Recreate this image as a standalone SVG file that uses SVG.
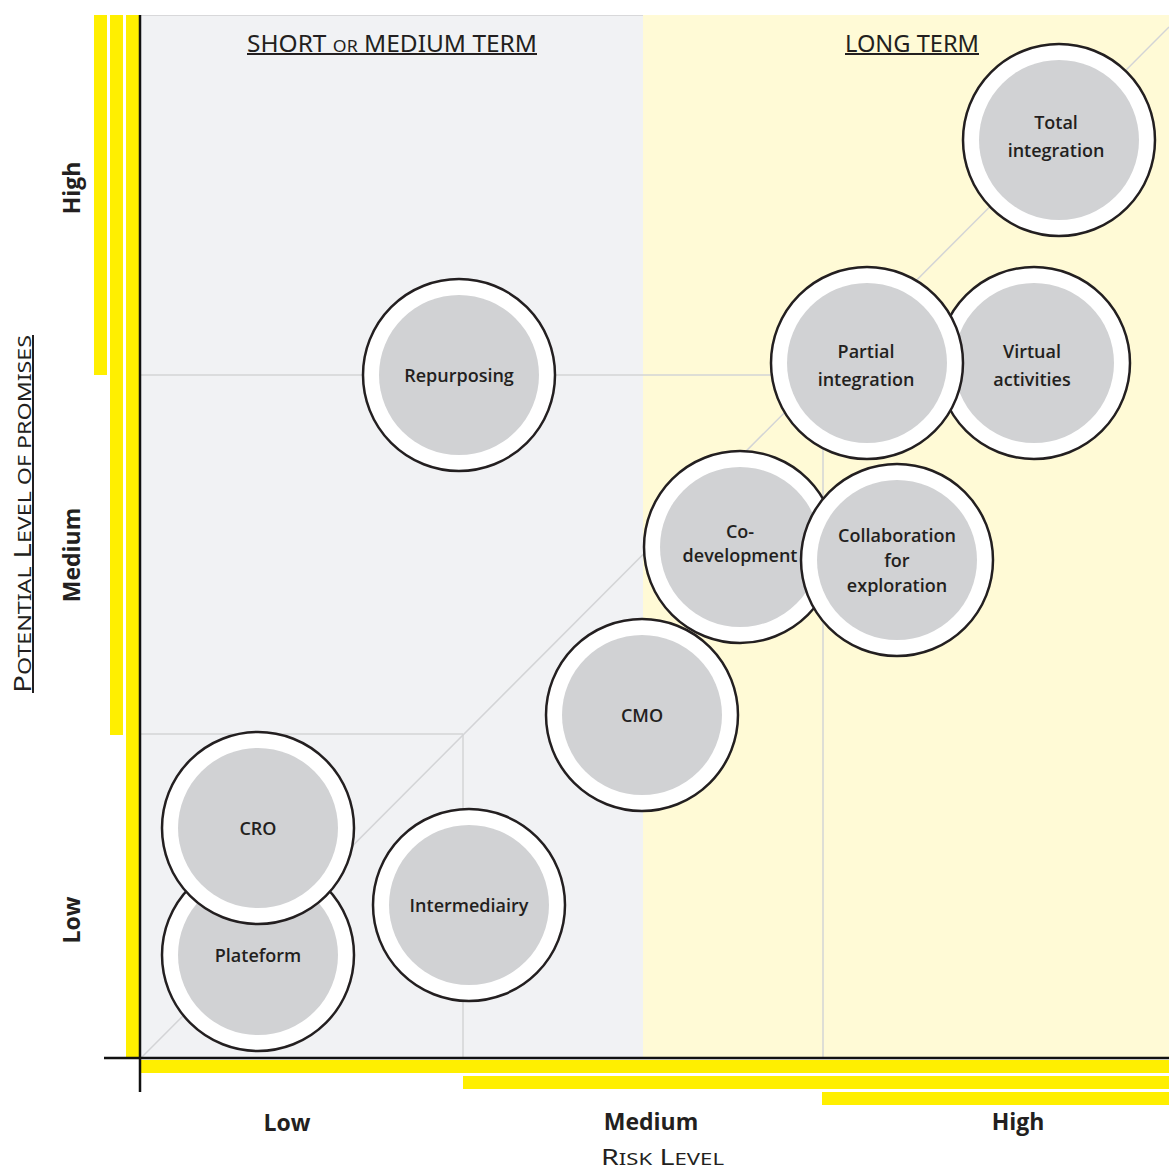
<svg xmlns="http://www.w3.org/2000/svg" width="1169" height="1171" viewBox="0 0 1169 1171">
<style>
.bg{stroke:none}
.grid{stroke:#d3d4d6;stroke-width:1.5;fill:none}
.bar{fill:#ffef00}
.axis{stroke:#111;stroke-width:2.5}
.outer{fill:#fff;stroke:#231f20;stroke-width:2.5}
.inner{fill:#d1d2d4}
.lbl{font-family:"Open Sans","Noto Sans",sans-serif;font-weight:600;font-size:18px;fill:#231f20;text-anchor:middle}
.tick{font-family:"Open Sans","Noto Sans",sans-serif;font-weight:700;font-size:23px;fill:#231f20;text-anchor:middle}
.title{font-family:"Noto Sans","Open Sans",sans-serif;font-weight:400;fill:#231f20}
.ul{stroke:#231f20;stroke-width:2}
</style>
<rect x="0" y="0" width="1169" height="1171" fill="#fff"/>
<g id="background">
<rect class="bg" x="141" y="15" width="502" height="1043" fill="#f1f2f4"/>
<rect class="bg" x="643" y="15" width="526" height="1043" fill="#fffad6"/>
<line x1="141" y1="15.5" x2="643" y2="15.5" stroke="#d8d8da" stroke-width="1"/>
</g>
<g id="connectors">
<line class="grid" x1="141" y1="375" x2="823" y2="375"/>
<line class="grid" x1="141" y1="734" x2="463" y2="734"/>
<line class="grid" x1="463" y1="734" x2="463" y2="1058"/>
<line class="grid" x1="823" y1="375" x2="823" y2="1058"/>
<line class="grid" x1="141" y1="1058" x2="1169" y2="27"/>
</g>
<g id="bars">
<rect class="bar" x="94" y="15" width="13" height="360"/>
<rect class="bar" x="110" y="15" width="13" height="720"/>
<rect class="bar" x="126" y="15" width="13" height="1043"/>
<rect class="bar" x="141" y="1060" width="1028" height="13"/>
<rect class="bar" x="463" y="1076" width="706" height="13"/>
<rect class="bar" x="822" y="1092" width="347" height="13"/>
</g>
<g id="axes">
<line class="axis" x1="140" y1="15" x2="140" y2="1092"/>
<line class="axis" x1="104" y1="1058" x2="1169" y2="1058"/>
</g>
<g id="node-plateform"><circle class="outer" cx="258" cy="955" r="96"/><circle class="inner" cx="258" cy="955" r="80"/><text class="lbl" x="258" y="962">Plateform</text></g>
<g id="node-cro"><circle class="outer" cx="258" cy="828" r="96"/><circle class="inner" cx="258" cy="828" r="80"/><text class="lbl" x="258" y="835">CRO</text></g>
<g id="node-intermediairy"><circle class="outer" cx="469" cy="905" r="96"/><circle class="inner" cx="469" cy="905" r="80"/><text class="lbl" x="469" y="912">Intermediairy</text></g>
<g id="node-cmo"><circle class="outer" cx="642" cy="715" r="96"/><circle class="inner" cx="642" cy="715" r="80"/><text class="lbl" x="642" y="722">CMO</text></g>
<g id="node-codevelopment"><circle class="outer" cx="740" cy="547" r="96"/><circle class="inner" cx="740" cy="547" r="80"/><text class="lbl" x="740" y="538">Co-</text><text class="lbl" x="740" y="562">development</text></g>
<g id="node-collaboration"><circle class="outer" cx="897" cy="560" r="96"/><circle class="inner" cx="897" cy="560" r="80"/><text class="lbl" x="897" y="542">Collaboration</text><text class="lbl" x="897" y="567">for</text><text class="lbl" x="897" y="592">exploration</text></g>
<g id="node-virtual"><circle class="outer" cx="1034" cy="363" r="96"/><circle class="inner" cx="1034" cy="363" r="80"/><text class="lbl" x="1032" y="358">Virtual</text><text class="lbl" x="1032" y="386">activities</text></g>
<g id="node-partial"><circle class="outer" cx="867" cy="363" r="96"/><circle class="inner" cx="867" cy="363" r="80"/><text class="lbl" x="866" y="358">Partial</text><text class="lbl" x="866" y="386">integration</text></g>
<g id="node-total"><circle class="outer" cx="1059" cy="140" r="96"/><circle class="inner" cx="1059" cy="140" r="80"/><text class="lbl" x="1056" y="129">Total</text><text class="lbl" x="1056" y="157">integration</text></g>
<g id="node-repurposing"><circle class="outer" cx="459" cy="375" r="96"/><circle class="inner" cx="459" cy="375" r="80"/><text class="lbl" x="459" y="382">Repurposing</text></g>
<g id="titles">
<text class="title" x="247" y="52" font-size="23.5" textLength="290" lengthAdjust="spacingAndGlyphs">SHORT <tspan font-size="17">OR</tspan> MEDIUM TERM</text>
<line class="ul" x1="247" y1="54" x2="537" y2="54"/>
<text class="title" x="845" y="52" font-size="23.5" textLength="134" lengthAdjust="spacingAndGlyphs">LONG TERM</text>
<line class="ul" x1="845" y1="54" x2="979" y2="54"/>
<text class="title" x="601" y="1165" font-size="22" textLength="123" lengthAdjust="spacingAndGlyphs">R<tspan font-size="17">ISK</tspan> L<tspan font-size="17">EVEL</tspan></text>
<text class="title" transform="translate(31,693) rotate(-90)" x="0" y="0" font-size="23" textLength="358" lengthAdjust="spacingAndGlyphs">P<tspan font-size="18">OTENTIAL</tspan> L<tspan font-size="18">EVEL OF PROMISES</tspan></text>
<line class="ul" x1="33" y1="335" x2="33" y2="693"/>
</g>
<g id="ticks">
<text class="tick" x="287" y="1131">Low</text>
<text class="tick" x="651" y="1130">Medium</text>
<text class="tick" x="1018" y="1130">High</text>
<text class="tick" transform="translate(80,188) rotate(-90)">High</text>
<text class="tick" transform="translate(80,555) rotate(-90)">Medium</text>
<text class="tick" transform="translate(80,920) rotate(-90)">Low</text>
</g>
</svg>
